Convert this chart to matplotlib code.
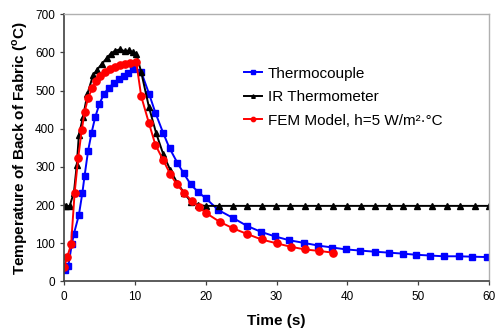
import matplotlib
matplotlib.use('Agg')
import matplotlib.pyplot as plt

plt.rcParams['font.family'] = ['Liberation Sans', 'DejaVu Sans']

# Thermocouple (blue squares)
tc_t = [0.1, 0.6, 1.1, 1.4, 2.1, 2.6, 2.9, 3.4, 3.9, 4.4, 5.0, 5.6, 6.3, 7.0, 7.7, 8.4, 9.1, 9.8,
        10.9, 12.0, 12.9, 14.0, 14.9, 16.0, 16.9, 17.9, 18.9, 20.0, 21.8, 23.8, 25.8, 27.8, 29.8,
        31.8, 33.9, 35.9, 37.9, 39.8, 41.8, 43.9, 45.9, 47.8, 49.7, 51.7, 53.6, 55.7, 57.6, 59.7]
tc_T = [31, 40, 97, 125, 174, 233, 276, 342, 390, 430, 465, 490, 507, 519, 530, 539, 547, 556,
        549, 492, 442, 389, 349, 311, 283, 254, 235, 218, 187, 167, 146, 130, 118,
        108, 101, 94, 89, 84, 81, 78, 75.5, 73, 70, 68, 66, 66, 65, 64]

# IR thermometer (black triangles)
ir_t = [0.0, 0.3, 0.8, 1.4, 1.8, 2.1, 2.7, 3.3, 4.1, 4.6, 5.3, 6.0, 6.6, 7.2, 7.9, 8.6, 9.2, 9.8,
        10.2, 10.9, 12.0, 13.0, 14.0, 15.0, 16.0, 17.0, 17.9, 18.9, 20.0, 21.9, 23.9, 25.9, 27.9,
        29.9, 31.9, 34.0, 35.9, 38.0, 40.0, 41.9, 43.9, 45.9, 47.9, 49.9, 52.0, 54.0, 55.9, 58.0, 60.0]
ir_T = [198, 198, 198, 233, 305, 384, 432, 491, 540, 553, 569, 584, 597, 604, 608, 603, 605, 600,
        597, 548, 456, 389, 334, 292, 258, 231, 209, 200, 198, 198, 198, 198, 198,
        198, 198, 198, 198, 198, 198, 198, 198, 198, 198, 198, 198, 198, 198, 198, 198]

# FEM model h=5 (red circles)
fem_t = [0.0, 0.45, 1.0, 1.5, 2.0, 2.5, 2.9, 3.4, 4.0, 4.5, 5.1, 5.8, 6.5, 7.2, 7.9, 8.6, 9.3, 10.2,
         10.9, 12.0, 12.9, 14.0, 15.0, 15.9, 17.0, 18.0, 19.0, 20.0, 22.0, 23.9, 25.9, 27.9,
         30.0, 32.0, 34.0, 36.0, 38.0]
fem_T = [37, 64, 97, 232, 323, 396, 443, 481, 506, 525, 538, 548, 556, 562, 566, 570, 573, 575,
         485, 414, 358, 318, 281, 255, 231, 212, 196, 180, 156, 139, 124, 110,
         100, 91, 84, 80, 75.5]

fig = plt.figure(figsize=(5, 3.3), dpi=100)
ax = fig.add_axes([0.128, 0.147, 0.850, 0.810])

ax.plot(tc_t, tc_T, color='#0000ff', lw=1.4, marker='s', ms=5, label='Thermocouple')
ax.plot(ir_t, ir_T, color='black', lw=1.4, marker='^', ms=4.3, label='IR Thermometer')
ax.plot(fem_t, fem_T, color='#ff0000', lw=1.4, marker='o', ms=5.2, label='FEM Model, h=5 W/m\u00b2\u00b7\u00b0C')

ax.set_xlim(0, 60)
ax.set_ylim(0, 700)
ax.set_xticks(range(0, 61, 10))
ax.set_yticks(range(0, 701, 100))
ax.tick_params(labelsize=8.5, length=3, width=0.9, color='#404040', direction='out')
for s in ('left', 'bottom'):
    ax.spines[s].set_color('#404040'); ax.spines[s].set_linewidth(1.2)
for s in ('top', 'right'):
    ax.spines[s].set_color('#b0b0b0'); ax.spines[s].set_linewidth(1.0)

ax.set_xlabel('Time (s)', fontsize=11, fontweight='bold', labelpad=8)
ax.set_ylabel('Temperature of Back of Fabric ($^\\mathregular{o}$C)', fontsize=11, fontweight='bold', labelpad=4)

ax.legend(loc='upper left', bbox_to_anchor=(0.39, 0.855), frameon=False, fontsize=11,
          handlelength=1.2, handletextpad=0.4, markerscale=0.6, labelspacing=0.62)

fig.savefig('out.png', dpi=100)
